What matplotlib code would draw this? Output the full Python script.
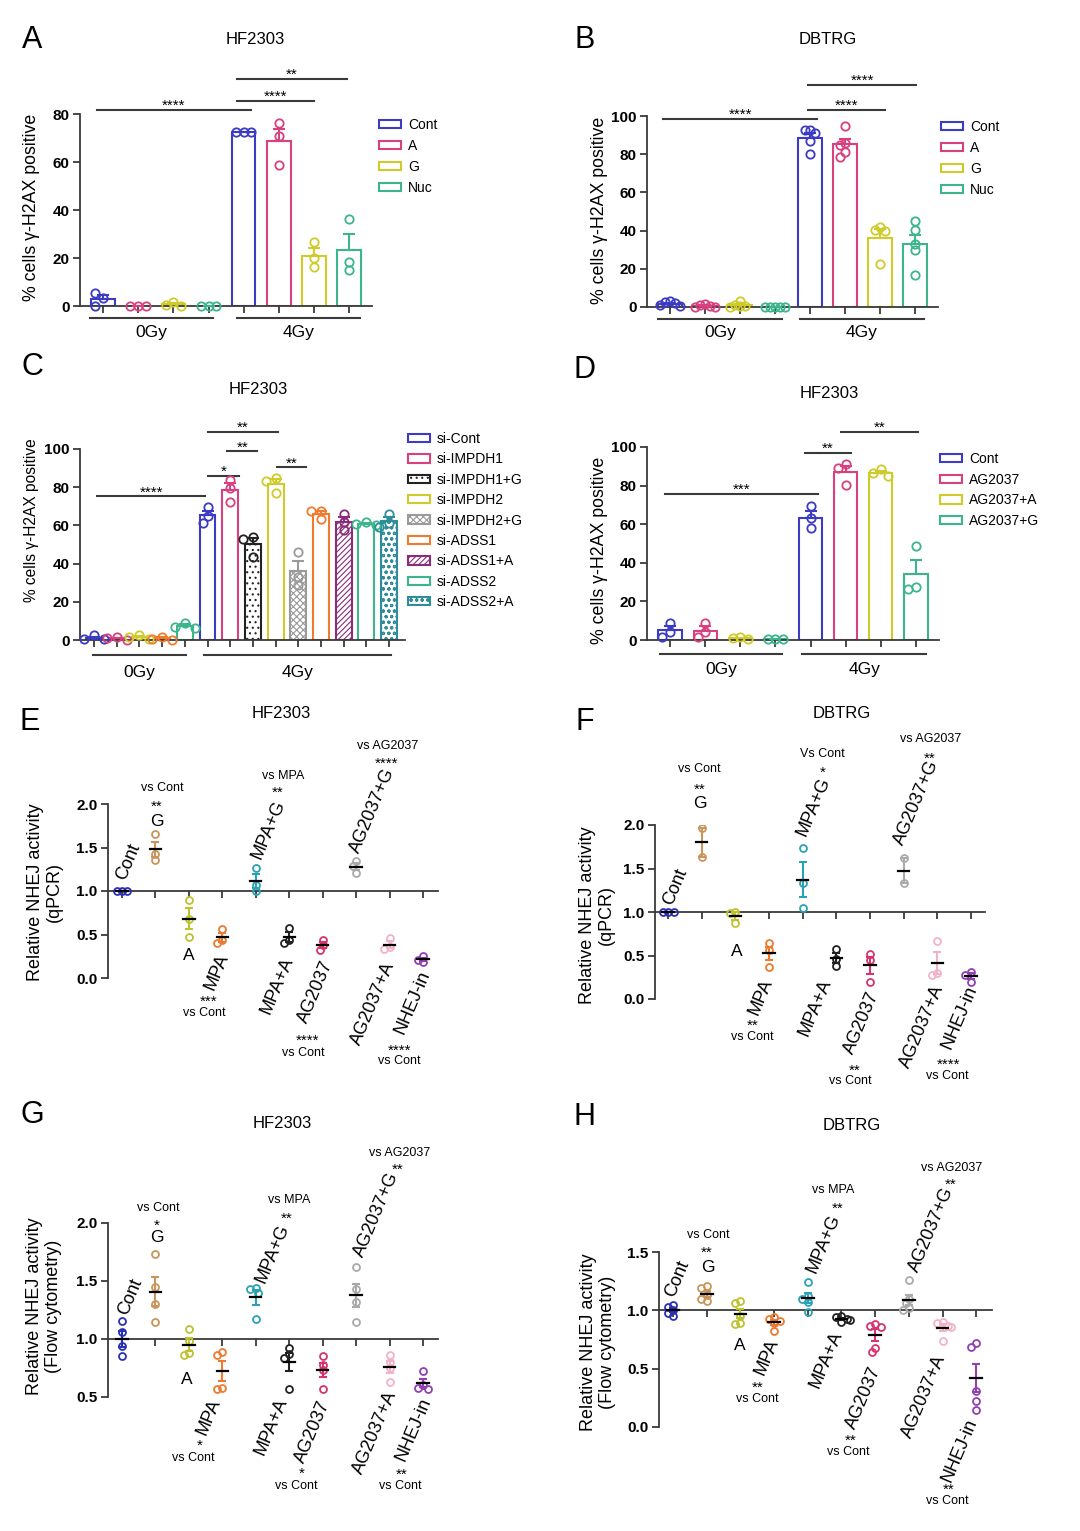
import numpy as np
import matplotlib
matplotlib.use('Agg')
import matplotlib.pyplot as plt
from matplotlib.patches import Patch
from matplotlib.transforms import offset_copy

plt.rcParams['font.family'] = ['Liberation Sans', 'DejaVu Sans']
plt.rcParams['hatch.linewidth'] = 0.8

# ---------------- data ----------------
# panel A (HF2303), replicates per bar: 0Gy then 4Gy
a_groups = ['Cont', 'A', 'G', 'Nuc']
a_0gy = [[3.2, 5.3, 0.2], [0.2, 0.1, 0.2], [1.5, 0.3, 0.2], [0.1, 0.1, 0.1]]
a_4gy = [[72.6, 72.4, 72.5], [76.3, 71.0, 58.8], [26.8, 19.9, 16.4], [36.3, 18.5, 15.0]]
a_sig = [(-0.17, 4.2, 81.7, '****'), (3.8, 6.0, 85.4, '****'), (3.8, 6.95, 94.6, '**')]

# panel B (DBTRG)
b_groups = ['Cont', 'A', 'G', 'Nuc']
b_0gy = [[3.0, 2.5, 2.0, 1.0, 0.5], [1.5, 0.8, 0.3, 0.2, 0.2],
         [3.2, 0.8, 0.5, 0.3, 0.2], [0.2, 0.2, 0.2, 0.2, 0.2]]
b_4gy = [[92.8, 92.5, 91.0, 80.2, 87.0], [95.0, 86.0, 85.0, 81.0, 78.5],
         [42.0, 40.5, 40.0, 22.5], [45.0, 40.1, 32.8, 29.7, 16.6]]
b_sig = [(-0.2, 4.2, 98.3, '****'), (3.95, 6.15, 103.0, '****'), (3.95, 7.03, 116.4, '****')]

# panel C (HF2303, siRNA)
c_groups = ['si-Cont', 'si-IMPDH1', 'si-IMPDH1+G', 'si-IMPDH2', 'si-IMPDH2+G',
            'si-ADSS1', 'si-ADSS1+A', 'si-ADSS2', 'si-ADSS2+A']
c_0gy_groups = ['si-Cont', 'si-IMPDH1', 'si-IMPDH2', 'si-ADSS1', 'si-ADSS2']
c_0gy = [[2.5, 0.5, 0.3], [1.5, 0.8, 0.2], [2.5, 1.5, 0.3], [1.8, 0.5, 0.2], [9.0, 7.0, 6.5]]
c_4gy = [[69.5, 65.0, 61.5], [84.0, 79.5, 72.0], [53.8, 52.8, 43.7], [84.8, 83.4, 76.9],
         [46.0, 33.0, 29.0], [67.8, 67.3, 63.3], [66.0, 62.0, 57.5], [62.0, 60.5, 60.0],
         [66.1, 61.2, 59.4]]
c_sig = [(0.15, 4.88, 75.2, '****'), (5.03, 6.38, 86.0, '*'), (5.87, 7.2, 98.8, '**'),
         (5.03, 8.1, 109.0, '**'), (8.04, 9.35, 90.4, '**')]

# panel D (HF2303, AG2037)
d_groups = ['Cont', 'AG2037', 'AG2037+A', 'AG2037+G']
d_0gy = [[9.0, 4.3, 1.7], [9.0, 4.3, 1.4], [1.5, 0.8, 0.5], [0.5, 0.5, 0.5]]
d_4gy = [[69.2, 63.1, 58.0], [91.3, 89.1, 80.1], [88.6, 86.5, 84.8], [48.8, 27.3, 26.3]]
d_sig = [(-0.14, 4.22, 75.8, '***'), (3.84, 5.14, 96.9, '**'), (4.87, 7.05, 108.0, '**')]

# panels E-H : relative NHEJ activity
dot_groups = ['Cont', 'G', 'A', 'MPA', 'MPA+G', 'MPA+A', 'AG2037', 'AG2037+G', 'AG2037+A', 'NHEJ-in']
e_vals = [[1.0, 1.0, 1.0], [1.65, 1.43, 1.36], [0.90, 0.68, 0.47], [0.56, 0.44, 0.40],
          [1.27, 1.07, 1.00], [0.58, 0.44, 0.40], [0.44, 0.375, 0.32], [1.34, 1.29, 1.21],
          [0.46, 0.36, 0.33], [0.25, 0.21, 0.18]]
f_vals = [[1.0, 1.0, 1.0], [1.97, 1.63], [1.0, 0.99, 0.87], [0.64, 0.56, 0.37],
          [1.74, 1.33, 1.05], [0.57, 0.46, 0.38], [0.52, 0.45, 0.19], [1.62, 1.33],
          [0.67, 0.30, 0.28], [0.31, 0.28, 0.20]]
g_vals = [[1.154, 1.061, 0.936, 0.855], [1.73, 1.45, 1.30, 1.145], [1.09, 0.98, 0.88, 0.86],
          [0.89, 0.86, 0.58, 0.57], [1.44, 1.43, 1.40, 1.17], [0.92, 0.87, 0.84, 0.57],
          [0.85, 0.78, 0.73, 0.57], [1.62, 1.43, 1.32, 1.145], [0.86, 0.80, 0.75, 0.63],
          [0.72, 0.60, 0.58, 0.57]]
h_vals = [[1.05, 1.03, 1.0, 0.98, 0.955], [1.21, 1.19, 1.13, 1.10, 1.08],
          [1.08, 1.06, 0.95, 0.89, 0.88], [0.94, 0.93, 0.91, 0.89, 0.82],
          [1.24, 1.12, 1.10, 1.07, 0.99], [0.95, 0.94, 0.93, 0.92, 0.90],
          [0.88, 0.87, 0.86, 0.68, 0.64], [1.26, 1.10, 1.06, 1.02, 1.0],
          [0.90, 0.89, 0.87, 0.86, 0.74], [0.72, 0.69, 0.31, 0.22, 0.15]]

# ---------------- colours ----------------
BLUE, PINK, YEL, GRN = '#3B3BC4', '#D9407F', '#CFCB2A', '#3CB58C'
ORG, PURP, TEAL, GRAY = '#F07B2D', '#8B2C7A', '#2F8C9A', '#9A9A9A'
c_colors = {'si-Cont': BLUE, 'si-IMPDH1': PINK, 'si-IMPDH1+G': '#222222', 'si-IMPDH2': YEL,
            'si-IMPDH2+G': GRAY, 'si-ADSS1': ORG, 'si-ADSS1+A': PURP, 'si-ADSS2': GRN,
            'si-ADSS2+A': TEAL}
c_hatch = {'si-IMPDH1+G': '...', 'si-IMPDH2+G': 'xxxxx', 'si-ADSS1+A': '//////',
           'si-ADSS2+A': 'ooo'}
dot_colors = ['#2A2FB5', '#C9955A', '#BFC230', '#EE7A30', '#2AA2B5', '#222222',
              '#D6336F', '#AAAAAA', '#F2B3C8', '#9040B0']

W, H = 1080, 1531
fig = plt.figure(figsize=(W / 100, H / 100), dpi=100)
AX = '#3a3a3a'


def box(x0, x1, ytop, ybot):
    return [x0 / W, 1 - ybot / H, (x1 - x0) / W, (ybot - ytop) / H]


def ftext(x, y, s, size, rot=0, weight='normal'):
    va = 'center'
    if set(s) == {'*'}:
        va = 'baseline'
        y += 0.45 * size * 100 / 72
    fig.text(x / W, 1 - y / H, s, fontsize=size, rotation=rot, ha='center', va=va,
             fontweight=weight, rotation_mode='anchor' if rot else 'default')


def swarm(ax, x, ys, dx, r):
    placed, offs = [], []
    for y in ys:
        py = ax.transData.transform((x, y))[1]
        for k in [0, -1, 1, -2, 2, -3, 3]:
            px = ax.transData.transform((x + k * dx, y))[0]
            if all((px - qx) ** 2 + (py - qy) ** 2 >= r * r for qx, qy in placed):
                break
        placed.append((px, py))
        offs.append(k * dx)
    return np.array(offs)


def style(ax, yticks, fmt):
    for s in ['top', 'right']:
        ax.spines[s].set_visible(False)
    for s in ['left', 'bottom']:
        ax.spines[s].set_linewidth(1.3)
        ax.spines[s].set_color(AX)
    ax.tick_params(direction='out', length=5, width=1.3, color=AX, pad=2.5)
    ax.set_yticks(yticks, labels=[fmt % v for v in yticks], fontweight='bold', fontsize=11)


def bar_panel(rect, reps, colors, hatches, ylim, yticks, xlim, sigs, spans, line_off, lab_off, width=0.67):
    ax = fig.add_axes(rect)
    ax.set_xlim(xlim)
    ax.set_ylim(ylim)
    style(ax, yticks, '%d')
    xs = np.arange(len(reps))
    ax.set_xticks(xs, labels=[])
    for x, ys, c, h in zip(xs, reps, colors, hatches):
        ys = np.array(ys)
        m = ys.mean()
        se = ys.std(ddof=1) / np.sqrt(len(ys))
        ax.bar(x, m, width=width, facecolor='white', edgecolor=c, linewidth=1.5, hatch=h, zorder=2)
        ax.errorbar(x, m, yerr=[[0], [se]], fmt='none', ecolor=c, elinewidth=1.5,
                    capsize=4, capthick=1.5, zorder=3)
        dx, r = (0.22, 7.5) if len(ys) <= 3 else (0.14, 4.8)
        offs = swarm(ax, x, ys, dx, r)
        ax.plot(x + offs, ys, 'o', mfc='none', mec=c, mew=1.3, ms=6, zorder=4, clip_on=False)
    for x0, x1, y, s in sigs:
        ax.plot([x0, x1], [y, y], color=AX, lw=1.5, clip_on=False)
        ax.text((x0 + x1) / 2, y, s, ha='center', va='baseline', fontsize=11)
    tr1 = offset_copy(ax.get_xaxis_transform(), fig=fig, y=-line_off, units='dots')
    tr2 = offset_copy(ax.get_xaxis_transform(), fig=fig, y=-lab_off, units='dots')
    for x0, x1, lab in spans:
        ax.plot([x0, x1], [0, 0], transform=tr1, color=AX, lw=1.5, clip_on=False)
        ax.text((x0 + x1) / 2, 0, lab, transform=tr2, ha='center', va='center', fontsize=12.5)
    return ax


def dot_panel(rect, reps, ylim, yticks, xlim, texts):
    ax = fig.add_axes(rect)
    ax.set_xlim(xlim)
    ax.set_ylim(ylim)
    style(ax, yticks, '%.1f')
    ax.spines['bottom'].set_position(('data', 1.0))
    xs = np.arange(len(reps))
    ax.set_xticks(xs, labels=[])
    for x, ys, c in zip(xs, reps, dot_colors):
        ys = np.array(ys)
        m = ys.mean()
        se = ys.std(ddof=1) / np.sqrt(len(ys))
        offs = swarm(ax, x, ys, 0.08, 5.0)
        ax.plot(x + offs, ys, 'o', mfc='none', mec=c, mew=1.3, ms=5, zorder=3)
        ax.errorbar(x, m, yerr=se, fmt='none', ecolor=c, elinewidth=1.5, capsize=3,
                    capthick=1.5, zorder=4)
        ax.plot([x - 0.17, x + 0.17], [m, m], color='black', lw=1.6, zorder=5)
    for s, x, y, rot, size in texts:
        ftext(x, y, s, size, rot)
    return ax


def legend(labels, colors, hatches, x, y, spacing):
    hs = [Patch(facecolor='white', edgecolor=c, hatch=h, lw=1.5, label=l)
          for l, c, h in zip(labels, colors, hatches)]
    fig.legend(handles=hs, loc='upper left', bbox_to_anchor=(x / W, 1 - y / H), frameon=False,
               fontsize=10, handlelength=1.6, handleheight=0.55, handletextpad=0.5,
               labelspacing=spacing, borderpad=0, borderaxespad=0)


cols4 = [BLUE, PINK, YEL, GRN]

# A
bar_panel(box(80, 372, 114, 306), a_0gy + a_4gy, cols4 * 2, [None] * 8, (0, 80),
          [0, 20, 40, 60, 80], (-0.655, 7.65), a_sig,
          [(-0.37, 3.13, '0Gy'), (3.81, 7.31, '4Gy')], 12, 27)
legend(a_groups, cols4, [None] * 4, 379, 118, 0.5)

# B
bar_panel(box(647, 938, 116, 307), b_0gy + b_4gy, cols4 * 2, [None] * 8, (0, 100),
          [0, 20, 40, 60, 80, 100], (-0.66, 7.66), b_sig,
          [(-0.34, 3.2, '0Gy'), (3.71, 7.26, '4Gy')], 12, 26)
legend(b_groups, cols4, [None] * 4, 941, 120, 0.5)

# C
c_all = c_0gy_groups + c_groups
bar_panel(box(80, 405, 449, 640), c_0gy + c_4gy, [c_colors[g] for g in c_all],
          [c_hatch.get(g) for g in c_all], (0, 100), [0, 20, 40, 60, 80, 100], (-0.62, 13.7),
          c_sig, [(-0.04, 4.05, '0Gy'), (4.85, 13.1, '4Gy')], 15, 32, width=0.7)
legend(c_groups, [c_colors[g] for g in c_groups], [c_hatch.get(g) for g in c_groups], 408, 432, 0.46)

# D
bar_panel(box(647, 939, 447, 640), d_0gy + d_4gy, cols4 * 2, [None] * 8, (0, 100),
          [0, 20, 40, 60, 80, 100], (-0.66, 7.66), d_sig,
          [(-0.29, 3.2, '0Gy'), (3.77, 7.3, '4Gy')], 14, 29)
legend(d_groups, cols4, [None] * 4, 940, 452, 0.48)

R = 67
e_txt = [('Cont', 128, 862, R, 13), ('G', 157, 822, 0, 12.5), ('**', 157, 804, 0, 11),
         ('vs Cont', 162, 788, 0, 9), ('A', 189, 956, 0, 12.5), ('MPA', 217, 972, R, 13),
         ('***', 209, 999, 0, 11), ('vs Cont', 204, 1013, 0, 9), ('MPA+G', 268, 830, R, 13),
         ('**', 278, 790, 0, 11), ('vs MPA', 283, 776, 0, 9), ('AG2037+G', 373, 811, R, 13),
         ('****', 387, 761, 0, 11), ('vs AG2037', 388, 746, 0, 9), ('MPA+A', 277, 986, R, 13),
         ('AG2037', 316, 992, R, 13), ('****', 308, 1038, 0, 11), ('vs Cont', 303, 1053, 0, 9),
         ('AG2037+A', 373, 1004, R, 13), ('NHEJ-in', 412, 1002, R, 13),
         ('****', 400, 1048, 0, 11), ('vs Cont', 399, 1061, 0, 9)]
f_txt = [('vs Cont', 699, 769, 0, 9), ('**', 700, 787, 0, 11), ('G', 700, 804, 0, 12.5),
         ('Cont', 675, 887, R, 13), ('Vs Cont', 822, 754, 0, 9), ('*', 823, 770, 0, 11),
         ('MPA+G', 813, 807, R, 13), ('vs AG2037', 931, 739, 0, 9), ('**', 930, 756, 0, 11),
         ('AG2037+G', 917, 803, R, 13), ('A', 737, 951, 0, 12.5), ('MPA', 761, 997, R, 13),
         ('**', 753, 1023, 0, 11), ('vs Cont', 752, 1037, 0, 9), ('MPA+A', 815, 1008, R, 13),
         ('AG2037', 862, 1023, R, 13), ('**', 855, 1068, 0, 11), ('vs Cont', 850, 1081, 0, 9),
         ('AG2037+A', 922, 1027, R, 13), ('NHEJ-in', 959, 1017, R, 13),
         ('****', 949, 1062, 0, 11), ('vs Cont', 947, 1076, 0, 9)]
g_txt = [('vs Cont', 158, 1208, 0, 9), ('*', 157, 1223, 0, 11), ('G', 157, 1238, 0, 12.5),
         ('Cont', 130, 1297, R, 13), ('vs MPA', 289, 1200, 0, 9), ('**', 287, 1216, 0, 11),
         ('MPA+G', 272, 1254, R, 13), ('vs AG2037', 400, 1153, 0, 9), ('**', 398, 1167, 0, 11),
         ('AG2037+G', 377, 1215, R, 13), ('A', 187, 1379, 0, 12.5), ('MPA', 209, 1417, R, 13),
         ('*', 200, 1443, 0, 11), ('vs Cont', 193, 1458, 0, 9), ('MPA+A', 271, 1427, R, 13),
         ('AG2037', 313, 1432, R, 13), ('*', 302, 1471, 0, 11), ('vs Cont', 296, 1486, 0, 9),
         ('AG2037+A', 375, 1433, R, 13), ('NHEJ-in', 413, 1429, R, 13),
         ('**', 402, 1472, 0, 11), ('vs Cont', 400, 1486, 0, 9)]
h_txt = [('vs Cont', 708, 1235, 0, 9), ('**', 707, 1250, 0, 11), ('G', 708, 1267, 0, 12.5),
         ('Cont', 677, 1279, R, 13), ('vs MPA', 833, 1190, 0, 9), ('**', 838, 1206, 0, 11),
         ('MPA+G', 823, 1244, R, 13), ('vs AG2037', 952, 1168, 0, 9), ('**', 951, 1182, 0, 11),
         ('AG2037+G', 932, 1230, R, 13), ('A', 740, 1345, 0, 12.5), ('MPA', 767, 1357, R, 13),
         ('**', 758, 1385, 0, 11), ('vs Cont', 757, 1399, 0, 9), ('MPA+A', 826, 1360, R, 13),
         ('AG2037', 864, 1398, R, 13), ('**', 851, 1438, 0, 11), ('vs Cont', 848, 1452, 0, 9),
         ('AG2037+A', 924, 1397, R, 13), ('NHEJ-in', 959, 1450, R, 13),
         ('**', 949, 1487, 0, 11), ('vs Cont', 947, 1501, 0, 9)]

dot_panel(box(108, 438, 804, 978), e_vals, (0, 2), [0, 0.5, 1.0, 1.5, 2.0], (-0.42, 9.45), e_txt)
dot_panel(box(655, 985, 825, 999), f_vals, (0, 2), [0, 0.5, 1.0, 1.5, 2.0], (-0.39, 9.42), f_txt)
dot_panel(box(108, 438, 1223, 1397), g_vals, (0.5, 2.0), [0.5, 1.0, 1.5, 2.0], (-0.42, 9.45), g_txt)
dot_panel(box(659, 992, 1252, 1427), h_vals, (0, 1.5), [0, 0.5, 1.0, 1.5], (-0.42, 9.47), h_txt)

# titles, panel letters, y labels
for s, x, y in [('HF2303', 255, 40), ('DBTRG', 828, 40), ('HF2303', 258, 390), ('HF2303', 829, 393),
                ('HF2303', 281, 713), ('DBTRG', 842, 714), ('HF2303', 282, 1124), ('DBTRG', 852, 1126)]:
    ftext(x, y, s, 12)
for s, x, y in [('A', 32, 40), ('B', 585, 40), ('C', 32, 367), ('D', 585, 370),
                ('E', 30, 722), ('F', 585, 722), ('G', 32, 1115), ('H', 585, 1117)]:
    ftext(x, y, s, 22)
yl = '% cells γ-H2AX positive'
for x, y, sz in [(32, 207, 12.8), (600, 210, 12.8), (32, 520, 11.2), (600, 550, 12.8)]:
    ftext(x, y, yl, sz, 90)
for x, y, s in [(45, 892, 'Relative NHEJ activity\n(qPCR)'), (597, 915, 'Relative NHEJ activity\n(qPCR)'),
                (44, 1306, 'Relative NHEJ activity\n(Flow cytometry)'),
                (598, 1342, 'Relative NHEJ activity\n(Flow cytometry)')]:
    fig.text(x / W, 1 - y / H, s, fontsize=13, rotation=90, ha='center', va='center',
             multialignment='center', linespacing=1.1)

fig.savefig('out.png', dpi=100)
